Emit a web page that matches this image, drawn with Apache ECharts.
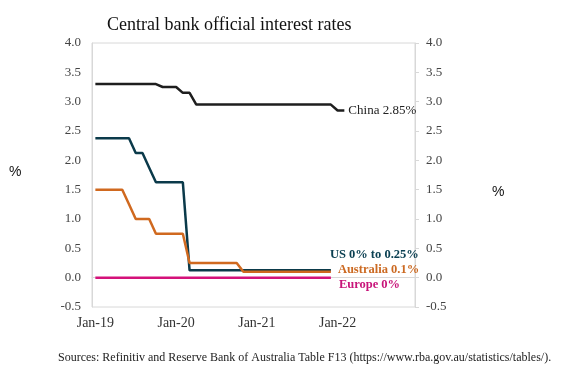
<!DOCTYPE html>
<html>
<head>
<meta charset="utf-8">
<script src="https://cdn.jsdelivr.net/npm/echarts@6/dist/echarts.min.js"></script>
<style>
  html, body { margin: 0; padding: 0; background: #fff; }
  #chart { width: 570px; height: 377px; }
</style>
</head>
<body>
<div id="chart"></div>
<script>
var serif = '"Liberation Serif", "DejaVu Serif", serif';

// months Jan-19 .. Dec-22 (one category per month)
var years = ['19', '20', '21', '22'];
var monthNames = ['Jan','Feb','Mar','Apr','May','Jun','Jul','Aug','Sep','Oct','Nov','Dec'];
var months = [];
years.forEach(function (y) {
    monthNames.forEach(function (m) { months.push(m + '-' + y); });
});

// monthly rates, %, starting Jan-19
var china = [3.3, 3.3, 3.3, 3.3, 3.3, 3.3, 3.3, 3.3, 3.3, 3.3, 3.25, 3.25,
    3.25, 3.15, 3.15, 2.95, 2.95, 2.95, 2.95, 2.95, 2.95, 2.95, 2.95, 2.95,
    2.95, 2.95, 2.95, 2.95, 2.95, 2.95, 2.95, 2.95, 2.95, 2.95, 2.95, 2.95,
    2.85, 2.85];
var us = [2.375, 2.375, 2.375, 2.375, 2.375, 2.375, 2.125, 2.125, 1.875, 1.625, 1.625, 1.625,
    1.625, 1.625, 0.125, 0.125, 0.125, 0.125, 0.125, 0.125, 0.125, 0.125, 0.125, 0.125,
    0.125, 0.125, 0.125, 0.125, 0.125, 0.125, 0.125, 0.125, 0.125, 0.125, 0.125, 0.125];
var australia = [1.5, 1.5, 1.5, 1.5, 1.5, 1.25, 1.0, 1.0, 1.0, 0.75, 0.75, 0.75,
    0.75, 0.75, 0.25, 0.25, 0.25, 0.25, 0.25, 0.25, 0.25, 0.25, 0.1, 0.1,
    0.1, 0.1, 0.1, 0.1, 0.1, 0.1, 0.1, 0.1, 0.1, 0.1, 0.1, 0.1];
var europe = [0, 0, 0, 0, 0, 0, 0, 0, 0, 0, 0, 0,
    0, 0, 0, 0, 0, 0, 0, 0, 0, 0, 0, 0,
    0, 0, 0, 0, 0, 0, 0, 0, 0, 0, 0, 0];

var chart = echarts.init(document.getElementById('chart'));

function yAxisCfg(pos) {
    return {
        type: 'value',
        position: pos,
        min: -0.5,
        max: 4,
        interval: 0.5,
        axisLine: { show: true, lineStyle: { color: '#d8d8d8', width: 1 } },
        axisTick: { show: pos === 'right', length: 4, lineStyle: { color: '#d8d8d8' } },
        splitLine: { show: false },
        axisLabel: {
            margin: 11,
            color: '#444',
            fontFamily: serif,
            fontSize: 13,
            formatter: function (v) { return v.toFixed(1); }
        }
    };
}

function lineSeries(name, data, color, z) {
    return {
        name: name,
        type: 'line',
        data: data,
        showSymbol: false,
        z: z,
        lineStyle: { color: color, width: 2.5 },
        itemStyle: { color: color }
    };
}

var sChina = lineSeries('China', china, '#1e1e1e', 2);
sChina.endLabel = { show: true, formatter: 'China 2.85%', color: '#222', fontFamily: serif, fontSize: 13, distance: 4 };
var sUS = lineSeries('US', us, '#0b3a4a', 2);
sUS.endLabel = { show: true, formatter: 'US 0% to 0.25%', color: '#0b4052', fontFamily: serif, fontSize: 12.5, fontWeight: 'bold', offset: [-9, -16] };
var sAus = lineSeries('Australia', australia, '#d0691f', 3);
sAus.endLabel = { show: true, formatter: 'Australia 0.1%', color: '#cc6a22', fontFamily: serif, fontSize: 12.5, fontWeight: 'bold', offset: [-1, -2] };
var sEu = lineSeries('Europe', europe, '#d4127a', 4);
sEu.endLabel = { show: true, formatter: 'Europe 0%', color: '#c8157a', fontFamily: serif, fontSize: 12.5, fontWeight: 'bold', offset: [0, 7] };

var option = {
    animation: false,
    backgroundColor: '#fff',
    title: {
        text: 'Central bank official interest rates',
        left: 102,
        top: 11,
        textStyle: { fontFamily: serif, fontSize: 18, fontWeight: 'normal', color: '#111' }
    },
    grid: {
        left: 92, right: 155, top: 43, bottom: 70,
        show: true, borderColor: '#d8d8d8', borderWidth: 1
    },
    xAxis: {
        type: 'category',
        data: months,
        boundaryGap: true,
        axisLine: { show: true, lineStyle: { color: '#d8d8d8' } },
        axisTick: { show: false },
        axisLabel: {
            interval: function (i) { return i % 12 === 0; },
            color: '#333',
            fontFamily: serif,
            fontSize: 14,
            margin: 9
        }
    },
    yAxis: [yAxisCfg('left'), yAxisCfg('right')],
    series: [sChina, sUS, sAus, sEu],
    graphic: [
        { type: 'text', left: 9, top: 165, style: { text: '%', font: '14px "Liberation Sans", Arial, sans-serif', fill: '#111' } },
        { type: 'text', left: 492, top: 185, style: { text: '%', font: '14px "Liberation Sans", Arial, sans-serif', fill: '#111' } },
        { type: 'text', left: 58, top: 352, style: { text: 'Sources: Refinitiv and Reserve Bank of Australia Table F13 (https://www.rba.gov.au/statistics/tables/).', font: '12px "Liberation Serif", serif', fill: '#222' } }
    ]
};

chart.setOption(option);
</script>
</body>
</html>
